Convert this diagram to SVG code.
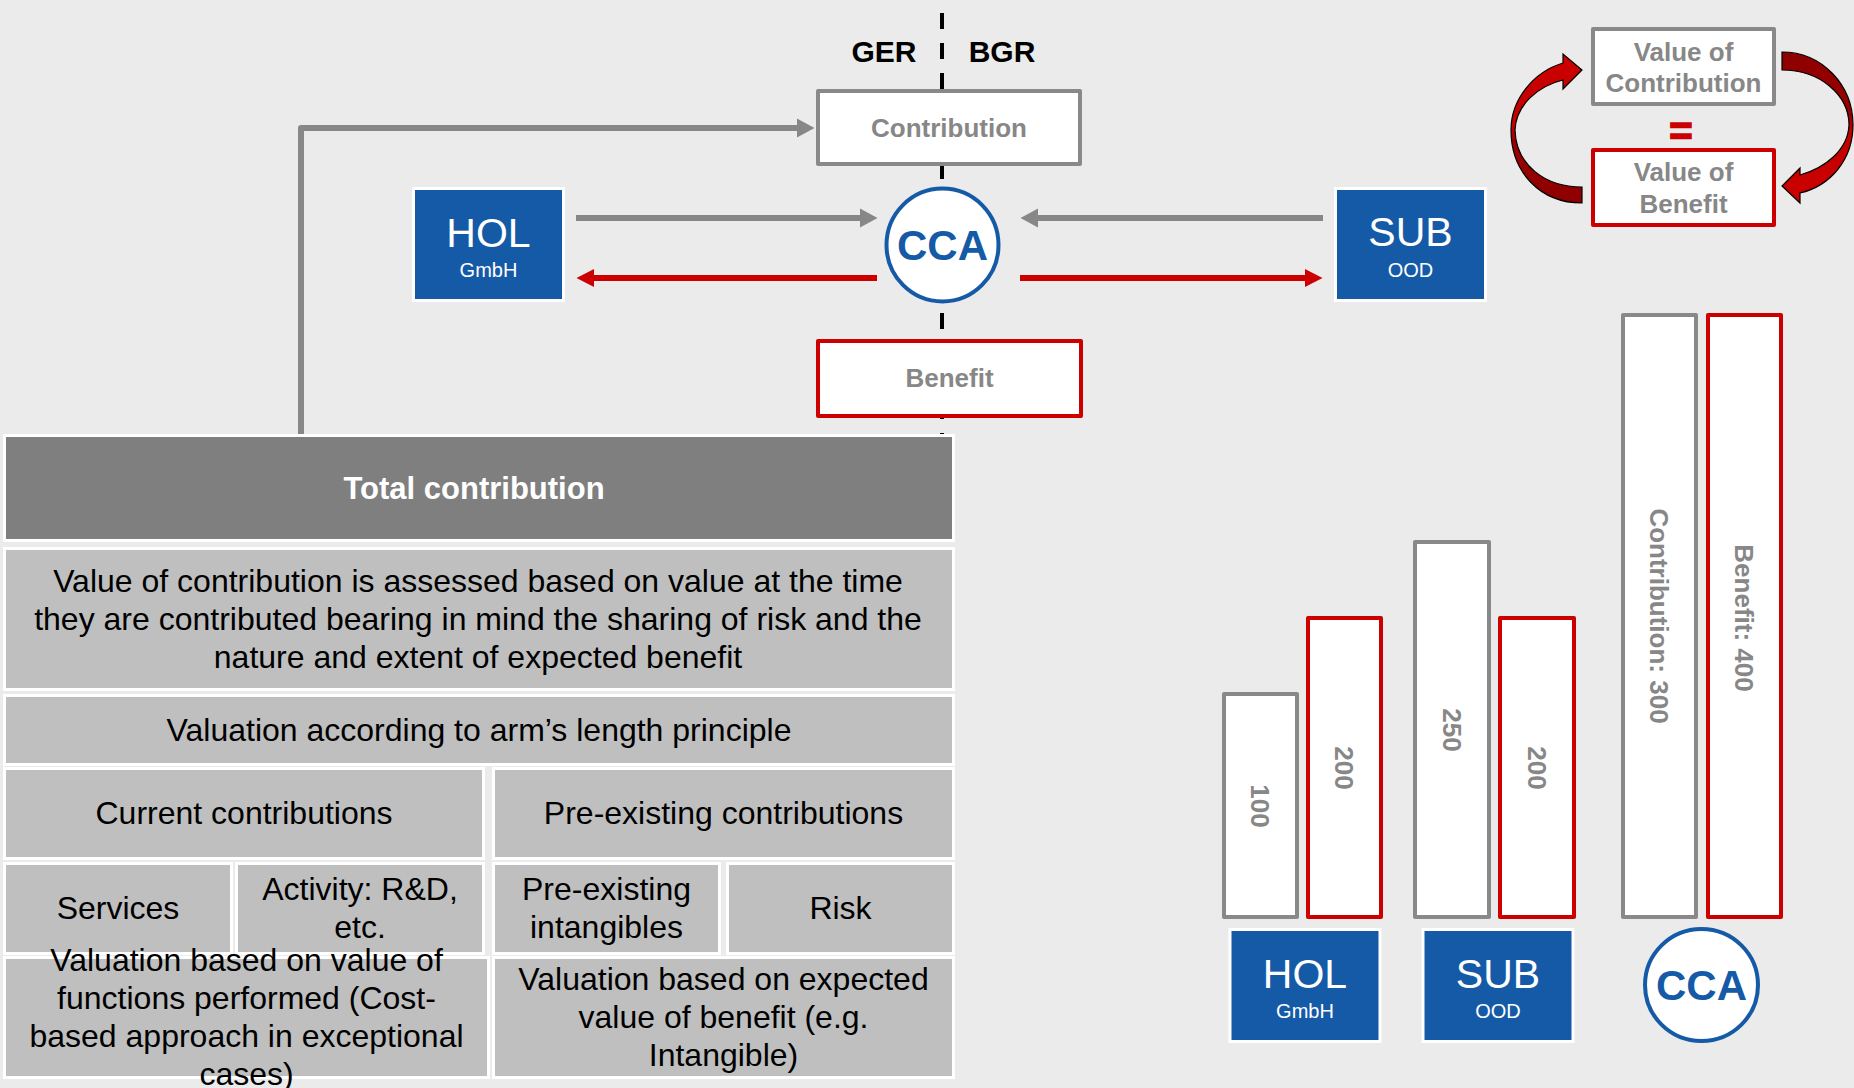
<svg xmlns="http://www.w3.org/2000/svg" width="1854" height="1088" viewBox="0 0 1854 1088">
  <defs>
    <style>
      text { font-family: "Liberation Sans", Arial, sans-serif; }
      .bg { fill: #ebebeb; }
      .cell { fill: #bfbfbf; stroke: #ffffff; stroke-width: 3; }
      .cell-dark { fill: #7f7f7f; stroke: #ffffff; stroke-width: 3; }
      .cell-text { font-size: 32px; fill: #000000; text-anchor: middle; }
      .head-text { font-size: 31px; font-weight: bold; fill: #ffffff; text-anchor: middle; }
      .ent { fill: #155aa6; stroke: #ffffff; stroke-width: 3; }
      .ent-name { font-size: 41px; fill: #ffffff; text-anchor: middle; }
      .ent-form { font-size: 20px; fill: #ffffff; text-anchor: middle; }
      .cca { fill: #ffffff; stroke: #155aa6; stroke-width: 4; }
      .cca-text { font-size: 42px; font-weight: bold; fill: #155aa6; text-anchor: middle; }
      .box-gray { fill: #ffffff; stroke: #898989; stroke-width: 4; stroke-linejoin: round; }
      .box-red { fill: #ffffff; stroke: #cc0000; stroke-width: 4; stroke-linejoin: round; }
      .box-text { font-size: 26px; font-weight: bold; fill: #878787; text-anchor: middle; }
      .label { font-size: 30px; font-weight: bold; fill: #000000; text-anchor: middle; }
      .flow-gray { fill: none; stroke: #878787; stroke-width: 6; }
      .flow-red { fill: none; stroke: #cc0000; stroke-width: 6; }
      .divider { stroke: #000000; stroke-width: 4; stroke-dasharray: 16 14; }
      .curl { stroke: #000000; stroke-width: 1.2; stroke-linejoin: miter; }
    </style>
    <marker id="head-gray" markerUnits="userSpaceOnUse" viewBox="0 -10 18 20" refX="0" refY="0" markerWidth="18" markerHeight="20" orient="auto" overflow="visible">
      <path d="M0,-9.5 L17.5,0 L0,9.5 Z" fill="#878787"/>
    </marker>
    <marker id="head-red" markerUnits="userSpaceOnUse" viewBox="0 -10 18 20" refX="0" refY="0" markerWidth="18" markerHeight="20" orient="auto" overflow="visible">
      <path d="M0,-9 L17.5,0 L0,9 Z" fill="#cc0000"/>
    </marker>
    <linearGradient id="curl-left" gradientUnits="userSpaceOnUse" x1="0" y1="54" x2="0" y2="203">
      <stop offset="0" stop-color="#cc0000"/>
      <stop offset="0.5" stop-color="#c00000"/>
      <stop offset="0.58" stop-color="#990000"/>
      <stop offset="1" stop-color="#8e0000"/>
    </linearGradient>
    <linearGradient id="curl-right" gradientUnits="userSpaceOnUse" x1="0" y1="52" x2="0" y2="203">
      <stop offset="0" stop-color="#8e0000"/>
      <stop offset="0.42" stop-color="#990000"/>
      <stop offset="0.52" stop-color="#c00000"/>
      <stop offset="1" stop-color="#cc0000"/>
    </linearGradient>
  </defs>

  <rect class="bg" x="0" y="0" width="1854" height="1088"/>

  <!-- GER / BGR border line -->
  <g id="border">
    <line class="divider" x1="942" y1="13" x2="942" y2="436"/>
    <text class="label" x="884" y="62">GER</text>
    <text class="label" x="1002" y="62">BGR</text>
  </g>

  <!-- connectors -->
  <g id="connectors">
    <path class="flow-gray" d="M301,436 V128 H797" stroke-linejoin="round" marker-end="url(#head-gray)"/>
    <path class="flow-gray" d="M576,218 H860" marker-end="url(#head-gray)"/>
    <path class="flow-red" d="M877,278 H594" marker-end="url(#head-red)"/>
    <path class="flow-gray" d="M1323,218 H1038" marker-end="url(#head-gray)"/>
    <path class="flow-red" d="M1020,278 H1305" marker-end="url(#head-red)"/>
    <path id="curl-up" class="curl" fill="url(#curl-left)" d="M1582,203 C1540,203 1511,172 1511,130 C1511,100 1533,72 1563,63 L1563,54 L1582,70 L1563,89 L1563,80 C1538,86 1516,105 1515,130 C1516,165 1545,187 1582,187 Z"/>
    <path id="curl-down" class="curl" fill="url(#curl-right)" d="M1782,52 C1822,52 1853,85 1853,125 C1853,160 1830,186 1800,193 L1800,203 L1782,186 L1800,168 L1800,175 C1825,168 1848,150 1849,125 C1849,95 1820,70 1782,70 Z"/>
  </g>

  <!-- flow boxes at the border -->
  <g id="contribution">
    <rect class="box-gray" x="818" y="91" width="262" height="73"/>
    <text class="box-text" x="949" y="137">Contribution</text>
  </g>
  <g id="benefit">
    <rect class="box-red" x="818" y="341" width="263" height="75"/>
    <text class="box-text" x="949.5" y="387">Benefit</text>
  </g>

  <!-- participants -->
  <g id="hol">
    <rect class="ent" x="413.5" y="188.5" width="150" height="112"/>
    <text class="ent-name" x="488.5" y="247">HOL</text>
    <text class="ent-form" x="488.5" y="277">GmbH</text>
  </g>
  <g id="cca">
    <ellipse class="cca" cx="942.5" cy="245" rx="56" ry="56.5"/>
    <text class="cca-text" x="942.5" y="260">CCA</text>
  </g>
  <g id="sub">
    <rect class="ent" x="1335.5" y="188.5" width="150" height="112"/>
    <text class="ent-name" x="1410.5" y="246">SUB</text>
    <text class="ent-form" x="1410.5" y="277">OOD</text>
  </g>

  <!-- value equation -->
  <g id="value-contribution">
    <rect class="box-gray" x="1593" y="29" width="181" height="75"/>
    <text class="box-text" x="1683.5" y="61">Value of</text>
    <text class="box-text" x="1683.5" y="92">Contribution</text>
  </g>
  <g id="equals">
    <text x="1681" y="145" font-size="40" font-weight="bold" fill="#cc0000" stroke="#cc0000" stroke-width="1.6" text-anchor="middle">=</text>
  </g>
  <g id="value-benefit">
    <rect class="box-red" x="1593" y="150" width="181" height="75"/>
    <text class="box-text" x="1683.5" y="181">Value of</text>
    <text class="box-text" x="1683.5" y="213">Benefit</text>
  </g>

  <!-- contribution / benefit columns -->
  <g id="bar-hol-contribution">
    <rect class="box-gray" x="1224" y="694" width="73" height="223"/>
    <text class="box-text" transform="translate(1260.5,806) rotate(90)" y="9.5">100</text>
  </g>
  <g id="bar-hol-benefit">
    <rect class="box-red" x="1308" y="618" width="73" height="299"/>
    <text class="box-text" transform="translate(1344.5,768) rotate(90)" y="9.5">200</text>
  </g>
  <g id="bar-sub-contribution">
    <rect class="box-gray" x="1415" y="542" width="74" height="375"/>
    <text class="box-text" transform="translate(1452,730) rotate(90)" y="9.5">250</text>
  </g>
  <g id="bar-sub-benefit">
    <rect class="box-red" x="1500" y="618" width="74" height="299"/>
    <text class="box-text" transform="translate(1537,768) rotate(90)" y="9.5">200</text>
  </g>
  <g id="bar-cca-contribution">
    <rect class="box-gray" x="1623" y="315" width="73" height="602"/>
    <text class="box-text" transform="translate(1659.5,616) rotate(90)" y="9.5">Contribution: 300</text>
  </g>
  <g id="bar-cca-benefit">
    <rect class="box-red" x="1708" y="315" width="73" height="602"/>
    <text class="box-text" transform="translate(1744.5,618) rotate(90)" y="9.5">Benefit: 400</text>
  </g>

  <g id="hol-legend">
    <rect class="ent" x="1230" y="929.5" width="150" height="112"/>
    <text class="ent-name" x="1305" y="988">HOL</text>
    <text class="ent-form" x="1305" y="1018">GmbH</text>
  </g>
  <g id="sub-legend">
    <rect class="ent" x="1423" y="929.5" width="150" height="112"/>
    <text class="ent-name" x="1498" y="988">SUB</text>
    <text class="ent-form" x="1498" y="1018">OOD</text>
  </g>
  <g id="cca-legend">
    <ellipse class="cca" cx="1701.5" cy="985" rx="56.5" ry="56"/>
    <text class="cca-text" x="1701.5" y="1000">CCA</text>
  </g>

  <!-- valuation table -->
  <g id="total-contribution">
    <rect class="cell-dark" x="4.5" y="435.5" width="949" height="105"/>
    <text class="head-text" x="474" y="499">Total contribution</text>
  </g>
  <g id="value-assessment">
    <rect class="cell" x="4.5" y="548.5" width="949" height="141"/>
    <text class="cell-text" x="478" y="592">Value of contribution is assessed based on value at the time</text>
    <text class="cell-text" x="478" y="630">they are contributed bearing in mind the sharing of risk and the</text>
    <text class="cell-text" x="478" y="668">nature and extent of expected benefit</text>
  </g>
  <g id="arms-length">
    <rect class="cell" x="4.5" y="695.5" width="949" height="69"/>
    <text class="cell-text" x="479" y="741">Valuation according to arm’s length principle</text>
  </g>
  <g id="current-contributions">
    <rect class="cell" x="4.5" y="768.5" width="479" height="90"/>
    <text class="cell-text" x="244" y="824">Current contributions</text>
  </g>
  <g id="pre-existing-contributions">
    <rect class="cell" x="493.5" y="768.5" width="460" height="90"/>
    <text class="cell-text" x="723.5" y="824">Pre-existing contributions</text>
  </g>
  <g id="services">
    <rect class="cell" x="4.5" y="863.5" width="227" height="90"/>
    <text class="cell-text" x="118" y="919">Services</text>
  </g>
  <g id="activity">
    <rect class="cell" x="236.5" y="863.5" width="247" height="90"/>
    <text class="cell-text" x="360" y="900">Activity: R&amp;D,</text>
    <text class="cell-text" x="360" y="938">etc.</text>
  </g>
  <g id="pre-existing-intangibles">
    <rect class="cell" x="493.5" y="863.5" width="226" height="90"/>
    <text class="cell-text" x="606.5" y="900">Pre-existing</text>
    <text class="cell-text" x="606.5" y="938">intangibles</text>
  </g>
  <g id="risk">
    <rect class="cell" x="727.5" y="863.5" width="226" height="90"/>
    <text class="cell-text" x="840.5" y="919">Risk</text>
  </g>
  <g id="valuation-functions">
    <rect class="cell" x="4.5" y="957.5" width="484" height="120"/>
    <text class="cell-text" x="246.5" y="971">Valuation based on value of</text>
    <text class="cell-text" x="246.5" y="1009">functions performed (Cost-</text>
    <text class="cell-text" x="246.5" y="1047">based approach in exceptional</text>
    <text class="cell-text" x="246.5" y="1085">cases)</text>
  </g>
  <g id="valuation-benefit">
    <rect class="cell" x="493.5" y="957.5" width="460" height="120"/>
    <text class="cell-text" x="723.5" y="990">Valuation based on expected</text>
    <text class="cell-text" x="723.5" y="1028">value of benefit (e.g.</text>
    <text class="cell-text" x="723.5" y="1066">Intangible)</text>
  </g>
</svg>
